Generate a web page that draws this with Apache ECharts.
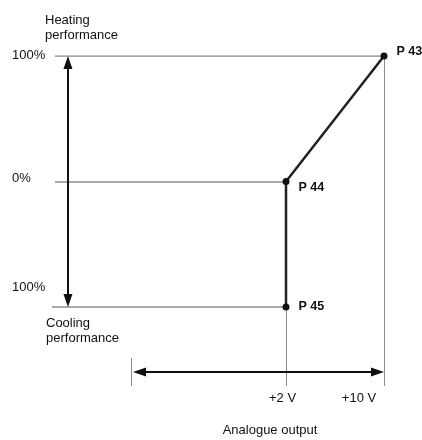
<!DOCTYPE html>
<html>
<head>
<meta charset="utf-8">
<script src="https://cdn.jsdelivr.net/npm/echarts@6/dist/echarts.min.js"></script>
<style>
  html, body { margin: 0; padding: 0; background: #fff; }
  #chart { width: 422px; height: 440px; }
</style>
</head>
<body>
<div id="chart"></div>
<script>
// characteristic: analogue output (V) vs performance (%)
const pointNames = ['P 45', 'P 44', 'P 43']
const pointVolts = [2, 2, 10]
const pointPerf = [-100, 0, 100]

// performance levels (heating +, cooling -)
const levelValues = [100, 0, -100]
const levelLabels = ['100%', '0%', '100%']
const levelStartX = [-16.86, -16.86, -17.1]
const levelEndX = [10, 2, 2]

// voltage ticks
const voltTicks = [2, 10]
const voltLabels = ['+2 V', '+10 V']

// schematic helpers (data coords)
const dropBottom = -163
const perfArrowX = -15.8
const perfArrowEnds = [94.8, -94.8]   // inset so the tips touch the 100% lines
const voltArrowY = -151.8
const voltArrowEnds = [-9.96, 9.47]
const bracketX = -10.6
const bracketTop = -140.6

const FONT = '"Liberation Sans", Arial, Helvetica, sans-serif'
const TXT = '#111'

const chart = echarts.init(document.getElementById('chart'))

const levelLines = levelValues.map((v, i) => ({
  coords: [[levelStartX[i], v], [levelEndX[i], v]],
}))
const dropLines = voltTicks.map((v, i) => ({
  coords: [[v, i === 0 ? pointPerf[0] : pointPerf[2]], [v, dropBottom]],
}))

const text = (x, y, str, opt = {}) => ({
  type: 'text',
  x, y,
  style: Object.assign({
    text: str,
    font: `13px ${FONT}`,
    fill: TXT,
    textVerticalAlign: 'middle',
  }, opt),
})

chart.setOption({
  animation: false,
  backgroundColor: '#fff',
  grid: { left: 4.25, right: 1.25, top: 56, height: 376.5 },
  xAxis: { type: 'value', min: -21, max: 13, show: false },
  yAxis: { type: 'value', min: -200, max: 100, show: false },
  series: [
    {
      type: 'lines',
      coordinateSystem: 'cartesian2d',
      silent: true,
      lineStyle: { color: '#8c8c8c', width: 1.6, opacity: 1 },
      data: levelLines,
    },
    {
      type: 'lines',
      coordinateSystem: 'cartesian2d',
      silent: true,
      lineStyle: { color: '#8c8c8c', width: 1, opacity: 1 },
      data: dropLines.concat([{ coords: [[bracketX, bracketTop], [bracketX, dropBottom]] }]),
    },
    {
      type: 'lines',
      coordinateSystem: 'cartesian2d',
      silent: true,
      symbol: ['triangle', 'triangle'],
      symbolSize: [[9, 13], [9, 13]],
      lineStyle: { color: '#111', width: 2, opacity: 1 },
      data: [
        { coords: [[perfArrowX, perfArrowEnds[0]], [perfArrowX, perfArrowEnds[1]]] },
        { coords: [[voltArrowEnds[0], voltArrowY], [voltArrowEnds[1], voltArrowY]] },
      ],
    },
    {
      type: 'line',
      silent: true,
      data: pointVolts.map((v, i) => [v, pointPerf[i]]),
      lineStyle: { color: '#222', width: 2.5 },
      symbol: 'circle',
      symbolSize: 7,
      itemStyle: { color: '#111' },
      label: {
        show: true,
        position: 'right',
        distance: 9,
        fontFamily: FONT,
        fontSize: 12.5,
        fontWeight: 'bold',
        color: TXT,
        formatter: (p) => pointNames[p.dataIndex],
      },
      labelLayout: (p) => ({ dy: [0, 6, -4][p.dataIndex] }),
    },
  ],
  graphic: [
    text(45, 12.5, 'Heating\nperformance', { textVerticalAlign: 'top', lineHeight: 15 }),
    text(46, 315.5, 'Cooling\nperformance', { textVerticalAlign: 'top', lineHeight: 15 }),
    text(12, 55, levelLabels[0]),
    text(12, 178, levelLabels[1]),
    text(12, 287, levelLabels[2]),
    text(282.5, 398, voltLabels[0], { textAlign: 'center' }),
    text(359, 398, voltLabels[1], { textAlign: 'center' }),
    text(270, 430, 'Analogue output', { textAlign: 'center' }),
  ],
})
</script>
</body>
</html>
